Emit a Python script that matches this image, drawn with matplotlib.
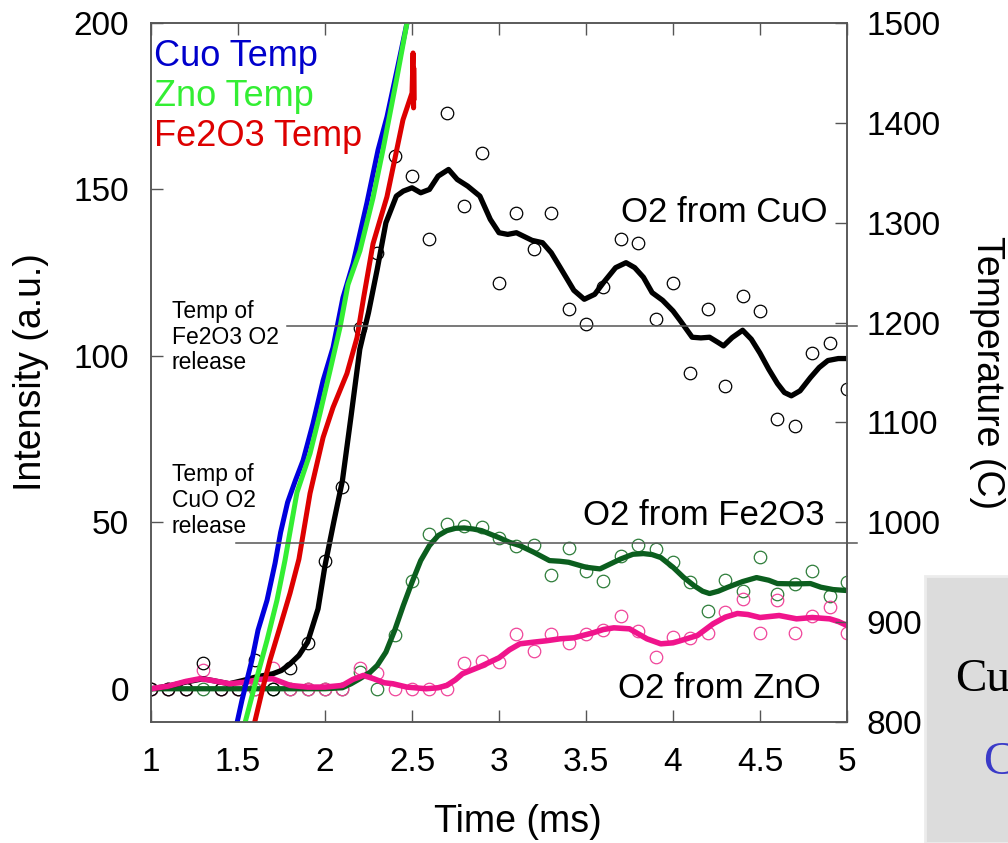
import numpy as np
import matplotlib.pyplot as plt
from matplotlib.patches import Rectangle

plt.rcParams['font.family'] = ['Liberation Sans', 'DejaVu Sans']

# measurement times (ms)
time = [1.0, 1.1, 1.2, 1.3, 1.4, 1.5, 1.6, 1.7, 1.8, 1.9,
        2.0, 2.1, 2.2, 2.3, 2.4, 2.5, 2.6, 2.7, 2.8, 2.9,
        3.0, 3.1, 3.2, 3.3, 3.4, 3.5, 3.6, 3.7, 3.8, 3.9,
        4.0, 4.1, 4.2, 4.3, 4.4, 4.5, 4.6, 4.7, 4.8, 4.9, 5.0]

# O2 signal, raw points
o2_cuo = [0, 0, 0, 7.8, 0, 0, 8.7, 0, 6.3, 13.8,
          38.5, 60.5, 108.5, 131, 160, 154, 135, 173, 145, 161,
          122, 143, 132, 143, 114, 109.5, 120.6, 135, 134, 111,
          122, 95, 114, 91, 118, 113.4, 81, 79, 101, 104, 90]
o2_fe2o3 = [0, 0, 0, 0, 0, 0, 0, 0, 0, 0,
            0, 0, 5, 0, 16, 32.5, 46.6, 49.6, 49, 48.7,
            45.4, 43, 43.3, 34.3, 42.4, 35.5, 32.5, 40, 43.3, 42,
            38, 32, 23.5, 32.8, 29.5, 39.7, 28.6, 31.6, 35.5, 28, 32]
o2_zno = [0, 0, 0, 5.7, 0, 0, 0, 6.3, 0, 0,
          0, 0, 6.3, 4.8, 0, 0, 0, 0, 7.8, 8.4,
          8.1, 16.5, 11.4, 16.5, 13.8, 16.5, 17.7, 22, 17.4, 9.6,
          15.6, 15.3, 16.8, 23, 27, 16.8, 26.8, 16.8, 22, 24.7, 16.8]

# smoothed O2 curves
cuo_fit_t = [1.0, 1.1, 1.2, 1.3, 1.4, 1.45, 1.53, 1.6, 1.7, 1.75, 1.8, 1.85, 1.9, 1.96,
             2.0, 2.05, 2.1, 2.15, 2.2, 2.25, 2.3, 2.35, 2.41, 2.45, 2.5, 2.55, 2.6,
             2.65, 2.71, 2.76, 2.82, 2.89, 2.95, 3.0, 3.05, 3.1, 3.19, 3.25, 3.3, 3.35,
             3.43, 3.49, 3.55, 3.6, 3.67, 3.73, 3.78, 3.83, 3.88, 3.94, 4.0, 4.04,
             4.11, 4.16, 4.21, 4.26, 4.29, 4.34, 4.4, 4.45, 4.5, 4.55, 4.6, 4.64,
             4.68, 4.73, 4.79, 4.84, 4.89, 4.95, 5.0]
cuo_fit_v = [0, 0.8, 2, 3, 2, 1.5, 2.5, 3.5, 4.5, 5.5, 7.5, 10, 14, 24,
             37, 50, 62.5, 82, 102, 113, 126, 140, 148, 149.5, 150.5, 149, 150,
             154, 156, 153, 151, 148, 141, 137, 136.5, 137, 134.7, 134, 131, 126.7,
             119.7, 117, 118.5, 122, 126.5, 128, 126.5, 123.6, 119, 116.7, 113.5, 110.7,
             105.6, 105.4, 105.6, 104, 103, 105.5, 107.7, 105, 100.8, 96, 91.7, 89,
             88, 89.5, 93.5, 96.5, 98.6, 99.2, 99.2]

fe2o3_fit_t = [1.0, 1.5, 2.0, 2.1, 2.15, 2.2, 2.26, 2.3, 2.35, 2.4, 2.45, 2.5, 2.55,
               2.6, 2.65, 2.7, 2.75, 2.8, 2.85, 2.9, 3.0, 3.06, 3.12, 3.2, 3.29, 3.35,
               3.4, 3.5, 3.58, 3.64, 3.7, 3.77, 3.83, 3.88, 3.93, 4.0, 4.06, 4.12,
               4.17, 4.21, 4.26, 4.31, 4.4, 4.48, 4.55, 4.6, 4.7, 4.79, 4.85, 4.92, 5.0]
fe2o3_fit_v = [0, 0, 0, 0.3, 1.5, 3, 5, 7, 11, 17.5, 25, 32, 38.5,
               43, 46, 47.5, 48.2, 48.3, 48, 47.5, 45.4, 44, 43, 41, 38.5, 38.3,
               38, 36.5, 36, 37.5, 39, 40.4, 40.6, 40.3, 39.4, 36.5, 33.5, 31,
               29.3, 28.6, 29.3, 30.4, 32.2, 33.4, 32.6, 31.6, 31.5, 31.6, 30.5, 29.8, 29.5]

zno_fit_t = [1.0, 1.1, 1.2, 1.28, 1.35, 1.45, 1.55, 1.62, 1.7, 1.75, 1.8, 1.9, 2.0,
             2.1, 2.16, 2.22, 2.28, 2.34, 2.39, 2.47, 2.58, 2.65, 2.7, 2.75, 2.79,
             2.89, 3.0, 3.06, 3.12, 3.2, 3.27, 3.35, 3.43, 3.54, 3.6, 3.66, 3.75,
             3.8, 3.85, 3.93, 4.0, 4.04, 4.14, 4.23, 4.3, 4.37, 4.43, 4.5, 4.61,
             4.71, 4.8, 4.9, 4.95, 5.0]
zno_fit_v = [0, 0.8, 2.2, 3, 2.5, 1.5, 2, 2.8, 3, 2, 1, 0.5, 0.5,
             1, 2.8, 4, 3, 1.8, 1.5, 0.5, 0, 0.3, 1, 2.7, 4.5,
             6.6, 9.3, 11.7, 13.5, 14, 14.4, 15, 15.3, 16.8, 17.8, 18.3, 18,
             16.5, 15, 13.5, 13.8, 14.4, 16, 19.5, 21.5, 22.6, 22.3, 21.4, 22,
             21, 21.4, 21, 20.2, 19]

# temperature traces (C)
cuo_temp_t = [1.49, 1.494, 1.523, 1.58, 1.615, 1.667, 1.713, 1.745, 1.785, 1.83, 1.874,
              1.931, 1.989, 2.046, 2.103, 2.161, 2.241, 2.305, 2.356, 2.414, 2.471, 2.48]
cuo_temp = [790, 799, 822, 862, 892, 922, 959, 990, 1020, 1042, 1062,
            1099, 1142, 1175, 1225, 1259, 1320, 1373, 1406, 1453, 1500, 1512]

zno_temp_t = [1.537, 1.54, 1.609, 1.667, 1.724, 1.77, 1.839, 1.914, 1.971, 2.029,
              2.086, 2.132, 2.201, 2.276, 2.333, 2.414, 2.471, 2.48]
zno_temp = [790, 799, 845, 882, 922, 962, 1030, 1069, 1109, 1152,
            1195, 1238, 1272, 1325, 1373, 1446, 1500, 1512]

fe2o3_temp_t = [1.59, 1.592, 1.644, 1.684, 1.741, 1.799, 1.85, 1.914, 1.989, 2.046,
                2.126, 2.184, 2.222, 2.276, 2.356, 2.448, 2.5, 2.506, 2.509, 2.51, 2.512]
fe2o3_temp = [790, 797, 835, 862, 895, 929, 963, 1029, 1085, 1115,
              1149, 1185, 1225, 1279, 1326, 1403, 1430, 1470, 1415, 1455, 1425]

# O2 release temperatures
release_fe2o3 = 1197
release_cuo = 979

fig = plt.figure(figsize=(10.08, 8.43), dpi=100)
ax = fig.add_axes([0.1498, 0.1435, 0.6905, 0.8292])
ax2 = ax.twinx()

frame = '#555555'

# raw points
ax.plot(time, o2_fe2o3, 'o', ms=9, mfc='none', mec='#2e7d3a', mew=0.9)
ax.plot(time, o2_zno, 'o', ms=9, mfc='none', mec='#f0459a', mew=0.9)
ax.plot(time, o2_cuo, 'o', ms=9, mfc='none', mec='black', mew=0.9)

# smoothed curves
ax.plot(fe2o3_fit_t, fe2o3_fit_v, color='#0b5e1e', lw=3.8, solid_capstyle='butt')
ax.plot(cuo_fit_t, cuo_fit_v, color='black', lw=3.8, solid_capstyle='butt')
ax.plot(zno_fit_t, zno_fit_v, color='#f0148c', lw=4.0, solid_capstyle='butt')

ax.set_xlim(1, 5)
ax.set_ylim(-10, 200)
ax.set_xticks([1, 1.5, 2, 2.5, 3, 3.5, 4, 4.5, 5])
ax.set_xticklabels(['1', '1.5', '2', '2.5', '3', '3.5', '4', '4.5', '5'])
ax.set_yticks([0, 50, 100, 150, 200])

# temperature traces on the right axis
ax2.plot(cuo_temp_t, cuo_temp, color='#0000dd', lw=3.6)
ax2.plot(zno_temp_t, zno_temp, color='#33ee33', lw=3.6)
ax2.plot(fe2o3_temp_t, fe2o3_temp, color='#dd0000', lw=3.6)
ax2.set_ylim(800, 1500)
ax2.set_yticks([800, 900, 1000, 1100, 1200, 1300, 1400, 1500])

ax2.plot([1.78, 5.06], [release_fe2o3, release_fe2o3], color=frame, lw=1.1, clip_on=False)
ax2.plot([1.49, 5.06], [release_cuo, release_cuo], color=frame, lw=1.1, clip_on=False)

for a in (ax, ax2):
    for s in a.spines.values():
        s.set_color(frame)
        s.set_linewidth(1.1)
ax.tick_params(axis='x', direction='in', length=8.5, width=1.0, color=frame,
               labelsize=24, pad=18, top=True)
ax.tick_params(axis='y', direction='in', length=8.5, width=1.0, color=frame,
               labelsize=24, pad=16)
ax2.tick_params(axis='y', direction='in', length=8.5, width=1.0, color=frame,
                labelsize=24, pad=14)

ax.set_xlabel('Time (ms)', fontsize=27)
ax.xaxis.set_label_coords(0.527, -0.117)
ax.set_ylabel('Intensity (a.u.)', fontsize=27)
ax.yaxis.set_label_coords(-0.146, 0.5)
ax2.set_ylabel('Temperature (C)', fontsize=27, rotation=270, va='center')
ax2.yaxis.set_label_coords(1.201, 0.5)

# legend for the temperature traces
ax.text(1.02, 189.8, 'Cuo Temp', color='#0000cc', fontsize=26, va='center')
ax.text(1.02, 178, 'Zno Temp', color='#33ee33', fontsize=26, va='center')
ax.text(1.02, 166, 'Fe2O3 Temp', color='#dd0000', fontsize=26, va='center')

# curve labels
ax.text(4.89, 143, 'O2 from CuO', fontsize=25, ha='right', va='center')
ax.text(4.87, 52, 'O2 from Fe2O3', fontsize=25, ha='right', va='center')
ax.text(4.85, 0, 'O2 from ZnO', fontsize=25, ha='right', va='center')

ax.text(1.12, 105.6, 'Temp of\nFe2O3 O2\nrelease', fontsize=16.5, va='center',
        linespacing=1.15)
ax.text(1.12, 56.5, 'Temp of\nCuO O2\nrelease', fontsize=16.5, va='center',
        linespacing=1.15)

# grey panel at the lower right edge
fig.patches.append(Rectangle((925 / 1008, 0), 0.2, (843 - 576) / 843,
                             transform=fig.transFigure, facecolor='#dcdcdc',
                             edgecolor='#ececec', lw=2))
fig.text(955 / 1008, 1 - 680 / 843, 'Cu', fontsize=34, va='center',
         family=['Liberation Serif', 'DejaVu Serif'])
fig.text(983 / 1008, 1 - 763 / 843, 'C', fontsize=34, va='center', color='#3a3ac8',
         family=['Liberation Serif', 'DejaVu Serif'])

fig.savefig('out.png', dpi=100)
